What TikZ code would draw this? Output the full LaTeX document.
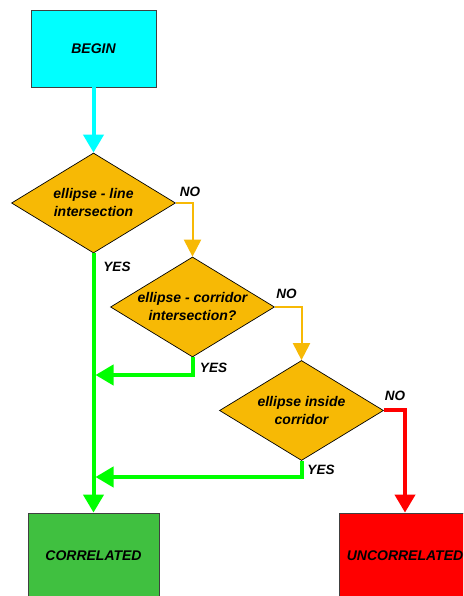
\documentclass[tikz,border=0pt]{standalone}
\usepackage{fontspec}
\setmainfont{Liberation Sans}
\usetikzlibrary{shapes.geometric}
\usetikzlibrary{arrows.meta}
\definecolor{ColBegin}{RGB}{0,255,255}
\definecolor{ColDec}{RGB}{247,185,5}
\definecolor{ColYes}{RGB}{0,255,0}
\definecolor{ColCorr}{RGB}{64,192,64}
\definecolor{ColUnc}{RGB}{255,0,0}
\tikzstyle{NodeText}=[font=\fontsize{14}{18}\selectfont\bfseries\itshape,align=center]
\tikzstyle{NodeBox}=[NodeText,rectangle,draw=black!75,line width=0.8pt,
minimum width=125pt,minimum height=77pt]
\tikzstyle{NodeDecision}=[NodeText,diamond,draw=black,fill=ColDec,line width=0.7pt,
inner sep=0pt,aspect=1.64,minimum width=164pt,minimum height=100pt]
\tikzstyle{NodeLabel}=[font=\fontsize{13.5}{16}\selectfont\bfseries\itshape,inner sep=0pt]
\tikzstyle{EdgeBegin}=[ColBegin,line width=4pt,-{Triangle[width=20pt,length=18pt]}]
\tikzstyle{EdgeNo}=[ColDec,line width=2pt,-{Triangle[width=17pt,length=17pt]}]
\tikzstyle{EdgeYes}=[ColYes,line width=4pt,-{Triangle[width=20pt,length=18pt]}]
\tikzstyle{EdgeFail}=[ColUnc,line width=4pt,-{Triangle[width=20pt,length=18pt]}]

\begin{document}
\begin{tikzpicture}[x=1pt,y=1pt]
        \useasboundingbox (0,0) rectangle (463,596);
        \clip (0,0) rectangle (463,596);
        \node[NodeBox,fill=ColBegin](start)at(93.5,547.5){BEGIN};
        \node[NodeDecision](d1)at(93.5,393){ellipse - line\\intersection};
        \node[NodeDecision](d2)at(192.5,289){ellipse - corridor\\intersection?};
        \node[NodeDecision](d3)at(301.5,185.5){ellipse inside\\corridor};
        \node[NodeBox,fill=ColCorr,minimum width=131pt,minimum height=86pt](corr)at(93.5,40){CORRELATED};
        \node[NodeBox,fill=ColUnc,minimum width=132pt,minimum height=86pt](unc)at(405,40){UNCORRELATED};
        \coordinate(j1)at(95.5,221);
        \coordinate(j2)at(95.5,119);
        \draw[EdgeBegin](start)--(d1);
        \draw[EdgeNo](d1.east)-|(d2.north);
        \draw[EdgeNo](d2.east)-|(d3.north);
        \draw[EdgeFail](d3.east)-|(unc.north);
        \draw[EdgeYes](d1.south)--(corr.north);
        \draw[EdgeYes](d2.south)|-(j1);
        \draw[EdgeYes](d3.south)|-(j2);
        \node[NodeLabel](no1)at(190,404){NO};
        \node[NodeLabel](no2)at(286.5,302){NO};
        \node[NodeLabel](no3)at(395,200){NO};
        \node[NodeLabel](yes1)at(117,329){YES};
        \node[NodeLabel](yes2)at(213.5,228){YES};
        \node[NodeLabel](yes3)at(321,126){YES};
    \end{tikzpicture}
\end{document}
